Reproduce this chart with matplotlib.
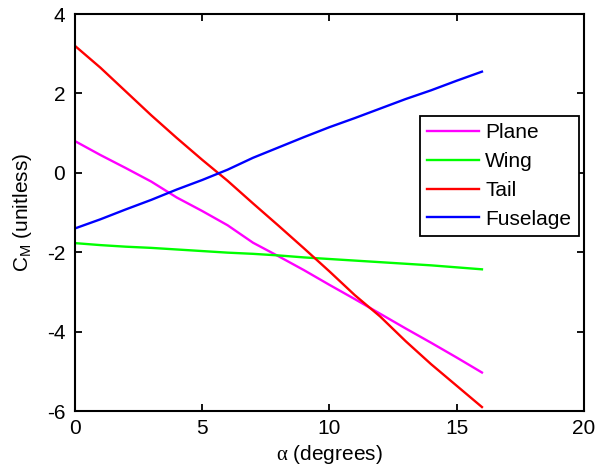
import numpy as np
import matplotlib
matplotlib.use("Agg")
import matplotlib.pyplot as plt

plt.rcParams["font.family"] = ["Liberation Sans", "DejaVu Sans"]
plt.rcParams["axes.unicode_minus"] = False
plt.rcParams["mathtext.fontset"] = "custom"
plt.rcParams["mathtext.rm"] = "Liberation Serif"
plt.rcParams["mathtext.it"] = "Liberation Serif"
plt.rcParams["mathtext.sf"] = "Liberation Sans"

# Angle of attack (degrees)
alpha = [0, 1, 2, 3, 4, 5, 6, 7, 8, 9, 10, 11, 12, 13, 14, 15, 16]

# Pitching moment coefficients
cm_plane = [0.80, 0.45, 0.12, -0.22, -0.62, -0.96, -1.32, -1.76, -2.10,
            -2.45, -2.82, -3.18, -3.55, -3.92, -4.28, -4.65, -5.03]
cm_wing = [-1.77, -1.82, -1.86, -1.89, -1.93, -1.97, -2.01, -2.04, -2.08,
           -2.13, -2.17, -2.21, -2.25, -2.29, -2.33, -2.38, -2.43]
cm_tail = [3.20, 2.65, 2.05, 1.45, 0.88, 0.33, -0.20, -0.77, -1.33,
           -1.90, -2.48, -3.08, -3.62, -4.24, -4.82, -5.36, -5.90]
cm_fuselage = [-1.40, -1.17, -0.92, -0.68, -0.42, -0.18, 0.08, 0.38, 0.64,
               0.90, 1.15, 1.38, 1.62, 1.86, 2.08, 2.32, 2.55]

fig = plt.figure(figsize=(5.95, 4.7), dpi=100)
ax = fig.add_axes([0.126, 0.1255, 0.855, 0.8445])

ax.plot(alpha, cm_plane, color="#ff00ff", lw=1.7, label="Plane")
ax.plot(alpha, cm_wing, color="#00ff00", lw=1.7, label="Wing")
ax.plot(alpha, cm_tail, color="#ff0000", lw=1.7, label="Tail")
ax.plot(alpha, cm_fuselage, color="#0000ff", lw=1.7, label="Fuselage")

ax.set_xlim(0, 20)
ax.set_ylim(-6, 4)
ax.set_xticks([0, 5, 10, 15, 20])
ax.set_yticks([-6, -4, -2, 0, 2, 4])
ax.tick_params(direction="in", top=True, right=True, length=5, width=1.3,
               labelsize=15)
ax.tick_params(axis="x", pad=6)
ax.tick_params(axis="y", pad=7)
for sp in ax.spines.values():
    sp.set_linewidth(1.5)

ax.set_xlabel(r"$\alpha$ (degrees)", fontsize=15, labelpad=3)
ax.set_ylabel(r"$\mathsf{C_M}$ (unitless)", fontsize=15, labelpad=9)

leg = ax.legend(loc="upper right", bbox_to_anchor=(0.99, 0.743), fontsize=15,
                fancybox=False, edgecolor="black", framealpha=1,
                handlelength=2.5, handletextpad=0.3, borderpad=0.35,
                labelspacing=0.47, borderaxespad=0)
leg.get_frame().set_linewidth(1.3)

fig.savefig("out.png", dpi=100)
